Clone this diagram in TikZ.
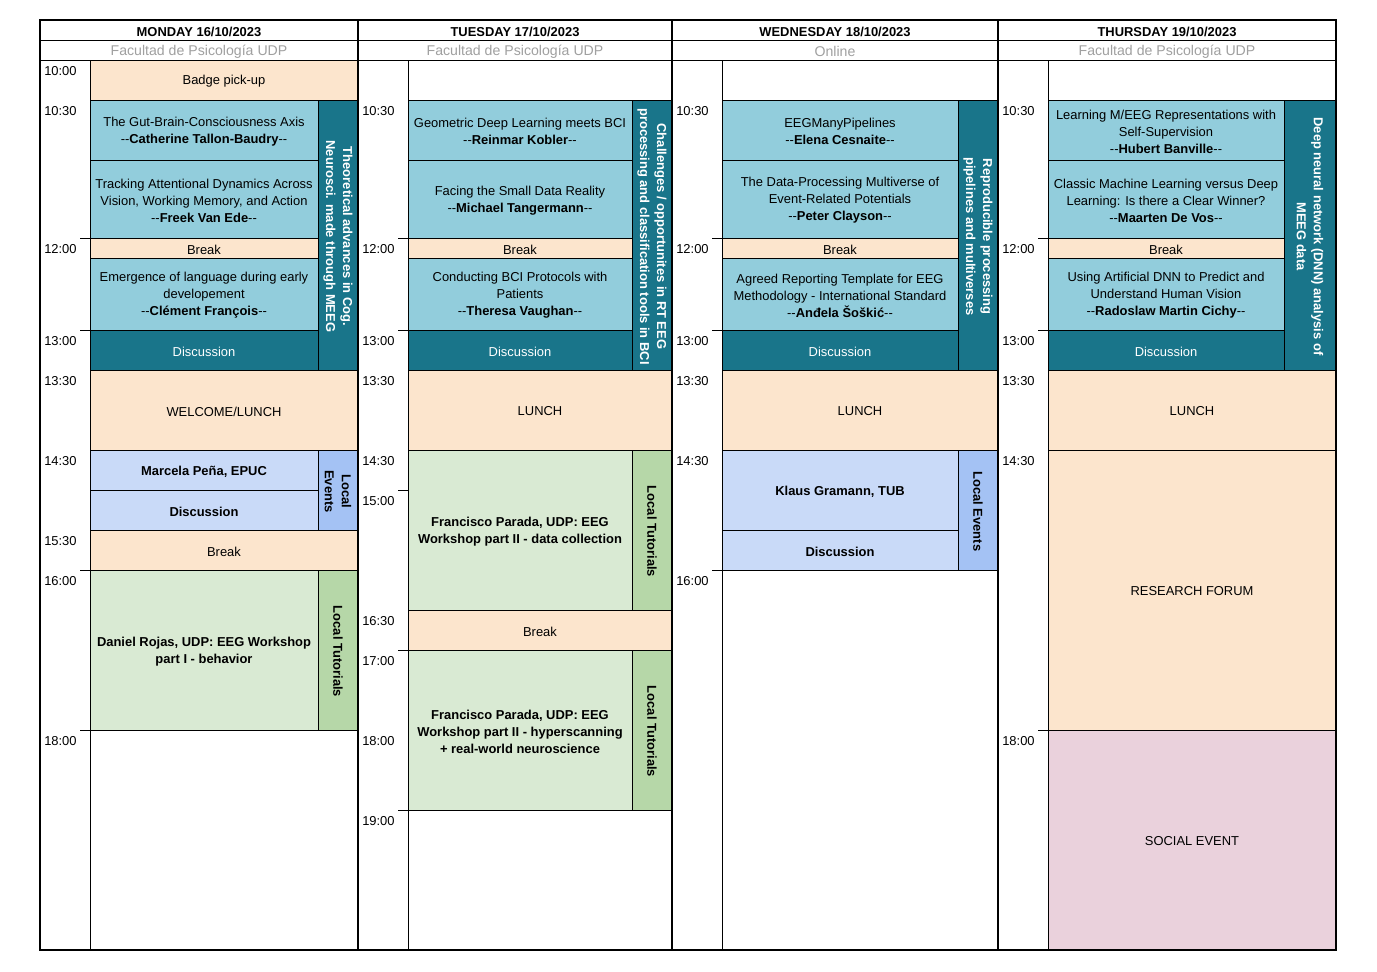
\documentclass[tikz,border=0pt]{standalone}
\usepackage{fontspec}
\setmainfont{Liberation Sans}
\usepackage{tikz}
\definecolor{peach}{HTML}{FCE5CD}
\definecolor{aqua}{HTML}{92CDDC}
\definecolor{deepteal}{HTML}{19758A}
\definecolor{paleblue}{HTML}{C9DAF8}
\definecolor{midblue}{HTML}{A4C2F4}
\definecolor{palegreen}{HTML}{D9EAD3}
\definecolor{midgreen}{HTML}{B6D7A8}
\definecolor{palepink}{HTML}{EAD1DC}
\definecolor{placegray}{HTML}{A0A0A0}
\newcommand{\cellfont}{\fontsize{9.7}{12.75}\selectfont}
\newcommand{\spk}[1]{-{}-\textbf{#1}-{}-}

\begin{document}
\begin{tikzpicture}[x=0.75pt, y=-0.75pt,
	every node/.style={font=\cellfont, inner sep=0pt, align=center, yshift=-1.1pt},
	cell/.style={draw=black, line width=0.75pt},
	frame/.style={draw=black, line width=1.6pt},
	brk/.style={cell, fill=peach},
	talk/.style={cell, fill=aqua},
	disc/.style={cell, fill=deepteal},
	local/.style={cell, fill=paleblue},
	localside/.style={cell, fill=midblue},
	tutor/.style={cell, fill=palegreen},
	tutorside/.style={cell, fill=midgreen},
	social/.style={cell, fill=palepink},
	bold/.style={font=\cellfont\bfseries},
	place/.style={text=placegray, font=\fontsize{10.6}{12.75}\selectfont},
	sidetxt/.style={rotate=-90, text=white, font=\cellfont\bfseries},
	sideblack/.style={rotate=-90, font=\cellfont\bfseries},
	clock/.style={anchor=west}]
	\fill[white] (0,0) rectangle (1377,971);
	\useasboundingbox (0,0) rectangle (1377,971);

	% headers
	\node[bold] (monhead) at (199,30) {MONDAY 16/10/2023};
	\node[bold] (tuehead) at (515,30) {TUESDAY 17/10/2023};
	\node[bold] (wedhead) at (835,30) {WEDNESDAY 18/10/2023};
	\node[bold] (thuhead) at (1167,30) {THURSDAY 19/10/2023};
	\node[place] (monplace) at (199,50) {Facultad de Psicología UDP};
	\node[place] (tueplace) at (515,50) {Facultad de Psicología UDP};
	\node[place] (wedplace) at (835,50) {Online};
	\node[place] (thuplace) at (1167,50) {Facultad de Psicología UDP};

	% monday
	\draw[brk] (90,60) rectangle node (badge) {Badge pick-up} (358,100);
	\draw[talk] (90,100) rectangle node (gut) {The Gut-Brain-Consciousness Axis\\\spk{Catherine Tallon-Baudry}} (318,160);
	\draw[talk] (90,160) rectangle node (tracking) {Tracking Attentional Dynamics Across\\Vision, Working Memory, and Action\\\spk{Freek Van Ede}} (318,238);
	\draw[brk] (90,238) rectangle node (monbreak) {Break} (318,258);
	\draw[talk] (90,258) rectangle node (emergence) {Emergence of language during early\\developement\\\spk{Clément François}} (318,330);
	\draw[disc] (90,330) rectangle node[text=white] (mondisc) {Discussion} (318,370);
	\draw[disc] (318,100) rectangle node[sidetxt] (montheme) {Theoretical advances in Cog.\\Neurosci. made through MEEG} (358,370);
	\draw[brk] (90,370) rectangle node (welcome) {WELCOME/LUNCH} (358,450);
	\draw[local] (90,450) rectangle node[bold] (pena) {Marcela Peña, EPUC} (318,490);
	\draw[local] (90,490) rectangle node[bold] (penadisc) {Discussion} (318,530);
	\draw[localside] (318,450) rectangle node[sideblack] (monlocal) {Local\\Events} (358,530);
	\draw[brk] (90,530) rectangle node (monbreak2) {Break} (358,570);
	\draw[tutor] (90,570) rectangle node[bold] (rojas) {Daniel Rojas, UDP: EEG Workshop\\part I - behavior} (318,730);
	\draw[tutorside] (318,570) rectangle node[sideblack] (montutor) {Local Tutorials} (358,730);

	% tuesday
	\draw[talk] (408,100) rectangle node (geometric) {Geometric Deep Learning meets BCI\\\spk{Reinmar Kobler}} (632,160);
	\draw[talk] (408,160) rectangle node (facing) {Facing the Small Data Reality\\\spk{Michael Tangermann}} (632,238);
	\draw[brk] (408,238) rectangle node (tuebreak) {Break} (632,258);
	\draw[talk] (408,258) rectangle node (conducting) {Conducting BCI Protocols with\\Patients\\\spk{Theresa Vaughan}} (632,330);
	\draw[disc] (408,330) rectangle node[text=white] (tuedisc) {Discussion} (632,370);
	\draw[disc] (632,100) rectangle node[sidetxt] (tuetheme) {Challenges / opportunites in RT EEG\\processing and classification tools in BCI} (672,370);
	\draw[brk] (408,370) rectangle node (tuelunch) {LUNCH} (672,450);
	\draw[tutor] (408,450) rectangle node[bold] (parada) {Francisco Parada, UDP: EEG\\Workshop part II - data collection} (632,610);
	\draw[tutorside] (632,450) rectangle node[sideblack] (tuetutor) {Local Tutorials} (672,610);
	\draw[brk] (408,610) rectangle node (tuebreak2) {Break} (672,650);
	\draw[tutor] (408,650) rectangle node[bold] (parada2) {Francisco Parada, UDP: EEG\\Workshop part II - hyperscanning\\+ real-world neuroscience} (632,810);
	\draw[tutorside] (632,650) rectangle node[sideblack] (tuetutor2) {Local Tutorials} (672,810);

	% wednesday
	\draw[talk] (722,100) rectangle node (pipelines) {EEGManyPipelines\\\spk{Elena Cesnaite}} (958,160);
	\draw[talk] (722,160) rectangle node (multiverse) {The Data-Processing Multiverse of\\Event-Related Potentials\\\spk{Peter Clayson}} (958,238);
	\draw[brk] (722,238) rectangle node (wedbreak) {Break} (958,258);
	\draw[talk] (722,258) rectangle node (agreed) {Agreed Reporting Template for EEG\\Methodology - International Standard\\\spk{Anđela Šoškić}} (958,330);
	\draw[disc] (722,330) rectangle node[text=white] (weddisc) {Discussion} (958,370);
	\draw[disc] (958,100) rectangle node[sidetxt] (wedtheme) {Reproducible processing\\pipelines and multiverses} (998,370);
	\draw[brk] (722,370) rectangle node (wedlunch) {LUNCH} (998,450);
	\draw[local] (722,450) rectangle node[bold] (gramann) {Klaus Gramann, TUB} (958,530);
	\draw[local] (722,530) rectangle node[bold] (gramanndisc) {Discussion} (958,570);
	\draw[localside] (958,450) rectangle node[sideblack] (wedlocal) {Local Events} (998,570);

	% thursday
	\draw[talk] (1048,100) rectangle node (selfsup) {Learning M/EEG Representations with\\Self-Supervision\\\spk{Hubert Banville}} (1284,160);
	\draw[talk] (1048,160) rectangle node (classic) {Classic Machine Learning versus Deep\\Learning: Is there a Clear Winner?\\\spk{Maarten De Vos}} (1284,238);
	\draw[brk] (1048,238) rectangle node (thubreak) {Break} (1284,258);
	\draw[talk] (1048,258) rectangle node (vision) {Using Artificial DNN to Predict and\\Understand Human Vision\\\spk{Radoslaw Martin Cichy}} (1284,330);
	\draw[disc] (1048,330) rectangle node[text=white] (thudisc) {Discussion} (1284,370);
	\draw[disc] (1284,100) rectangle node[sidetxt] (thutheme) {Deep neural network (DNN) analysis of\\MEEG data} (1336,370);
	\draw[brk] (1048,370) rectangle node (thulunch) {LUNCH} (1336,450);
	\draw[brk] (1048,450) rectangle node (forum) {RESEARCH FORUM} (1336,730);
	\draw[social] (1048,730) rectangle node (socialevent) {SOCIAL EVENT} (1336,950);

	% times
	\node[clock] (m1000) at (44,70) {10:00};
	\node[clock] (m1030) at (44,110) {10:30};
	\node[clock] (m1200) at (44,248) {12:00};
	\node[clock] (m1300) at (44,340) {13:00};
	\node[clock] (m1330) at (44,380) {13:30};
	\node[clock] (m1430) at (44,460) {14:30};
	\node[clock] (m1530) at (44,540) {15:30};
	\node[clock] (m1600) at (44,580) {16:00};
	\node[clock] (m1800) at (44,740) {18:00};

	\node[clock] (t1030) at (362,110) {10:30};
	\node[clock] (t1200) at (362,248) {12:00};
	\node[clock] (t1300) at (362,340) {13:00};
	\node[clock] (t1330) at (362,380) {13:30};
	\node[clock] (t1430) at (362,460) {14:30};
	\node[clock] (t1500) at (362,500) {15:00};
	\node[clock] (t1630) at (362,620) {16:30};
	\node[clock] (t1700) at (362,660) {17:00};
	\node[clock] (t1800) at (362,740) {18:00};
	\node[clock] (t1900) at (362,820) {19:00};

	\node[clock] (w1030) at (676,110) {10:30};
	\node[clock] (w1200) at (676,248) {12:00};
	\node[clock] (w1300) at (676,340) {13:00};
	\node[clock] (w1330) at (676,380) {13:30};
	\node[clock] (w1430) at (676,460) {14:30};
	\node[clock] (w1600) at (676,580) {16:00};

	\node[clock] (h1030) at (1002,110) {10:30};
	\node[clock] (h1200) at (1002,248) {12:00};
	\node[clock] (h1300) at (1002,340) {13:00};
	\node[clock] (h1330) at (1002,380) {13:30};
	\node[clock] (h1430) at (1002,460) {14:30};
	\node[clock] (h1800) at (1002,740) {18:00};

	% small ticks in the time columns
	\draw[cell] (80,238) -- (90,238);
	\draw[cell] (80,330) -- (90,330);
	\draw[cell] (80,570) -- (90,570);
	\draw[cell] (80,730) -- (90,730);
	\draw[cell] (398,238) -- (408,238);
	\draw[cell] (398,330) -- (408,330);
	\draw[cell] (398,490) -- (408,490);
	\draw[cell] (398,650) -- (408,650);
	\draw[cell] (398,810) -- (408,810);
	\draw[cell] (712,238) -- (722,238);
	\draw[cell] (712,330) -- (722,330);
	\draw[cell] (712,570) -- (722,570);
	\draw[cell] (1038,238) -- (1048,238);
	\draw[cell] (1038,330) -- (1048,330);
	\draw[cell] (1038,730) -- (1048,730);

	% grid
	\draw[cell] (40,40) -- (1336,40);
	\draw[cell] (40,60) -- (1336,60);
	\draw[cell] (90,60) -- (90,950);
	\draw[cell] (408,60) -- (408,950);
	\draw[cell] (722,60) -- (722,950);
	\draw[cell] (1048,60) -- (1048,950);
	\draw[frame] (358,20) -- (358,950);
	\draw[frame] (672,20) -- (672,950);
	\draw[frame] (998,20) -- (998,950);
	\draw[frame] (40,20) rectangle (1336,950);
\end{tikzpicture}
\end{document}
